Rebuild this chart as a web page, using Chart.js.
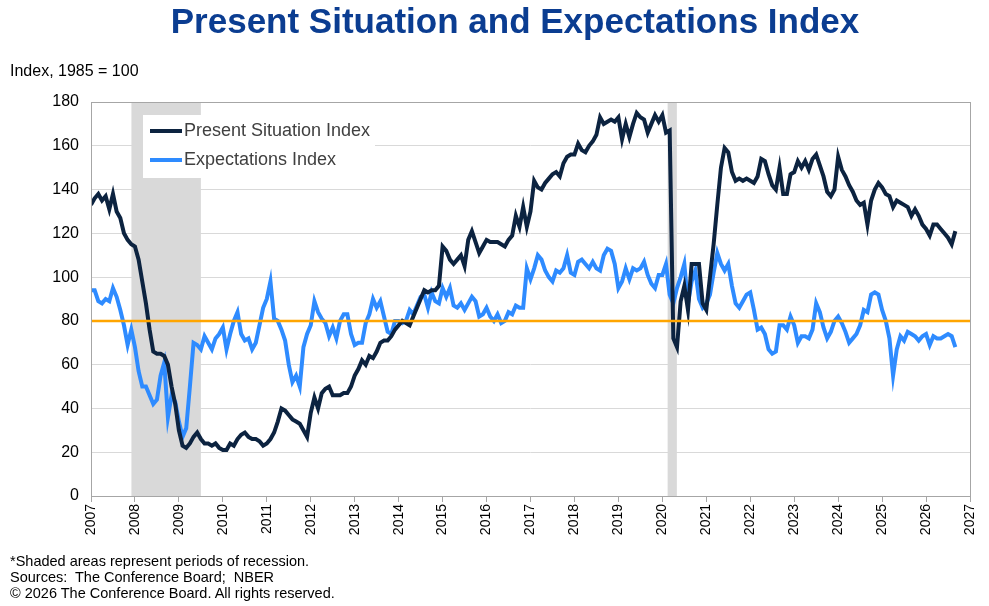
<!DOCTYPE html>
<html><head><meta charset="utf-8">
<script src="https://cdn.jsdelivr.net/npm/chart.js@4.4.1/dist/chart.umd.min.js"></script>
<style>
body{margin:0;width:989px;height:606px;position:relative;font-family:"Liberation Sans",Arial,sans-serif;background:#fff;overflow:hidden}
#c{position:absolute;left:0;top:0}
.t{position:absolute;white-space:nowrap}
</style></head><body>
<canvas id="c" width="989" height="606"></canvas>
<div class="t" style="left:0;width:1030px;text-align:center;top:1px;font-size:35px;font-weight:bold;color:#0b3d91">Present Situation and Expectations Index</div>
<div class="t" style="left:10px;top:62px;font-size:16px;color:#000">Index, 1985 = 100</div>
<div class="t" style="left:10px;top:553px;font-size:14.5px;line-height:16px;color:#000">*Shaded areas represent periods of recession.<br>Sources:&nbsp; The Conference Board;&nbsp; NBER<br>© 2026 The Conference Board. All rights reserved.</div>
<script>
const startYear = 2007;
const yearTicks = [2007,2008,2009,2010,2011,2012,2013,2014,2015,2016,2017,2018,2019,2020,2021,2022,2023,2024,2025,2026,2027];
const recessions = [[2007.92,2009.5],[2020.12,2020.33]];
const threshold = 80;
const presentSituation = [
133,136,138,135,137,131,138,130,127,120,117,115,
114,108,98,88,76,66,65,65,64,60,50,42,
30,23,22,24,27,29,26,24,24,23,24,22,
21,21,24,23,26,28,29,27,26,26,25,23,
24,26,29,34,40,39,37,35,34,33,30,27,
38,45,40,47,49,50,46,46,46,47,47,50,
55,58,62,60,64,63,66,70,71,71,73,76,
78,80,79,78,82,86,90,94,93,94,94,96,
114,112,108,106,108,110,105,117,121,116,111,114,
117,116,116,116,115,114,117,119,128,123,132,123,
130,144,141,140,143,145,147,148,146,152,155,156,
156,161,158,157,160,162,165,173,170,171,172,171,
173,163,170,164,170,175,173,172,166,170,174,171,
174,166,167,72,68,89,96,85,106,106,106,88,
85,100,115,133,150,159,157,148,144,145,144,145,
144,143,146,154,153,147,142,140,150,138,138,147,
148,153,150,153,149,154,156,151,146,139,137,140,
155,149,146,142,139,135,133,134,124,135,140,143,
141,138,137,132,135,134,133,132,128,131,128,124,
122,119,124,124,122,120,118,115,121];
const expectations = [
94,94,89,88,90,89,95,91,85,78,69,76,
68,57,50,50,46,42,44,55,61,36,46,43,
34,27,31,50,70,69,67,73,70,67,72,74,
77,67,74,80,84,74,71,72,67,70,78,86,
90,98,81,80,76,71,60,52,55,50,68,74,
78,89,84,81,79,73,77,72,80,83,83,74,
69,70,70,79,83,90,86,89,82,75,74,80,
80,79,80,85,83,87,91,92,86,93,89,88,
95,91,95,87,86,88,85,88,91,89,82,83,
86,82,80,83,79,80,84,83,87,86,86,104,
99,104,110,108,103,100,98,103,102,104,110,102,
101,107,108,106,104,107,104,103,110,113,112,106,
95,98,104,99,104,103,104,107,101,97,95,101,
101,106,92,88,95,100,106,88,98,103,90,86,
88,92,102,111,106,103,106,96,88,86,89,92,
93,85,76,77,74,67,65,66,78,78,76,82,
78,70,73,73,72,76,88,84,77,72,75,80,
82,79,75,70,72,74,78,85,84,92,93,92,
85,80,72,55,67,73,71,75,74,73,71,73,
74,69,73,72,72,73,74,73,68];
const toPts = arr => arr.map((v,i)=>({x:startYear+i/12,y:v}));
const L=91,T=102,R=970,B=496;
const deco = {
  id:'deco',
  beforeDatasetsDraw(ch){
    const {ctx,scales:{x,y},chartArea:a}=ch;
    ctx.save();ctx.fillStyle='#d9d9d9';
    recessions.forEach(([s,e])=>{const x1=x.getPixelForValue(s),x2=x.getPixelForValue(e);ctx.fillRect(x1,a.top,x2-x1,a.bottom-a.top);});
    ctx.restore();
  },
  afterDatasetsDraw(ch){
    const {ctx,chartArea:a}=ch;
    ctx.save();ctx.strokeStyle='#a6a6a6';ctx.lineWidth=1;
    ctx.strokeRect(a.left+0.5,a.top+0.5,a.right-a.left,a.bottom-a.top);
    ctx.fillStyle='#fff';ctx.fillRect(143,115,232,63);
    ctx.font='18px "Liberation Sans", Arial, sans-serif';ctx.textBaseline='middle';
    [['Present Situation Index','#0c2340',131],['Expectations Index','#2e8bff',160]].forEach(([t,c,yy])=>{
      ctx.strokeStyle=c;ctx.lineWidth=4;ctx.beginPath();ctx.moveTo(150,yy);ctx.lineTo(182,yy);ctx.stroke();
      ctx.fillStyle='#404040';ctx.fillText(t,184,yy);
    });
    ctx.restore();
  }
};
new Chart(document.getElementById('c'),{
  type:'line',
  data:{datasets:[
    {label:'Present Situation Index',data:toPts(presentSituation),borderColor:'#0c2340',borderWidth:4,pointRadius:0,tension:0,order:2},
    {label:'Expectations Index',data:toPts(expectations),borderColor:'#2e8bff',borderWidth:4,pointRadius:0,tension:0,order:3},
    {label:'80',data:[{x:2007,y:threshold},{x:2027,y:threshold}],borderColor:'#ffa500',borderWidth:2.5,pointRadius:0,order:1}
  ]},
  options:{
    responsive:false,animation:false,
    layout:{padding:{left:0,top:T,right:989-R,bottom:0}},
    plugins:{legend:{display:false},tooltip:{enabled:false}},
    scales:{
      x:{type:'linear',min:2007,max:2027,
        afterBuildTicks(s){s.ticks=yearTicks.map(v=>({value:v}));},
        afterFit(s){s.height=606-B;},
        ticks:{callback:v=>String(v),maxRotation:90,minRotation:90,color:'#000',font:{size:14,family:'"Liberation Sans", Arial'},padding:2,autoSkip:false},
        grid:{drawOnChartArea:false,drawTicks:true,tickLength:6,color:'#a6a6a6'},border:{color:'#a6a6a6'}},
      y:{min:0,max:180,
        afterFit(s){s.width=L;},
        ticks:{stepSize:20,color:'#000',font:{size:16,family:'"Liberation Sans", Arial'},padding:12},
        grid:{color:'#d9d9d9',drawTicks:false},border:{display:false}}
    }
  },
  plugins:[deco]
});
</script>
</body></html>
